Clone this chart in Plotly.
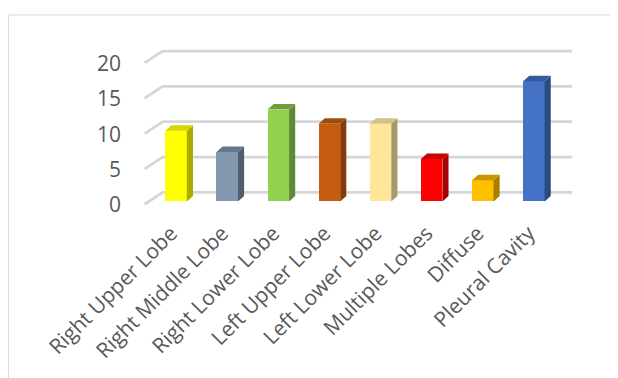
import plotly.graph_objects as go

categories = ["Right Upper Lobe", "Right Middle Lobe", "Right Lower Lobe", "Left Upper Lobe",
              "Left Lower Lobe", "Multiple Lobes", "Diffuse", "Pleural Cavity"]
values = [10, 7, 13, 11, 11, 6, 3, 17]
front_colors = ["#FFFF00", "#8497B0", "#92D050", "#C55A11", "#FFE699", "#FF0000", "#FFC000", "#4472C4"]
side_colors = ["#ABAB00", "#525E6E", "#5E8A33", "#843C0C", "#A89A66", "#A80000", "#A87F00", "#2B4A80"]
top_colors = ["#D6D600", "#66768C", "#6E9E3C", "#A04A0E", "#D2C38A", "#C80000", "#C89600", "#34599C"]
grid_values = [0, 5, 10, 15, 20]
tick_labels = ["0", "5", "10", "15", "20"]

# 3-D geometry (category / value units)
HW = 0.21          # half width of bar front face
DDX, DDY = 0.12, 0.78   # bar depth offset
BACK_DX0, BACK_DX1, BACK_DY = -0.264, 7.75, 1.28
FRONT_DX, FRONT_DY = -0.616, -0.4

TXT = "#595959"
FONT = "Open Sans"

fig = go.Figure()

# gridlines (base subplot, drawn beneath bars)
gx, gy = [], []
for v in grid_values:
    gx += [FRONT_DX, BACK_DX0, BACK_DX1, None]
    gy += [v + FRONT_DY, v + BACK_DY, v + BACK_DY, None]
fig.add_trace(go.Scatter(x=gx, y=gy, mode="lines", line=dict(color="#D6D6D6", width=2.8),
                         hoverinfo="skip", showlegend=False, xaxis="x", yaxis="y"))

xs = list(range(len(categories)))
# front faces
fig.add_trace(go.Bar(x=xs, y=values, width=2 * HW, marker=dict(color=front_colors, line=dict(width=0)),
                     showlegend=False, xaxis="x2", yaxis="y2"))
# side and top faces
for i, v in enumerate(values):
    sx = [i + HW, i + HW + DDX, i + HW + DDX, i + HW, i + HW]
    sy = [0, DDY, v + DDY, v, 0]
    fig.add_trace(go.Scatter(x=sx, y=sy, fill="toself", mode="lines", line=dict(width=0, color=side_colors[i]),
                             fillcolor=side_colors[i], hoverinfo="skip", showlegend=False,
                             xaxis="x2", yaxis="y2"))
    tx = [i - HW, i + HW, i + HW + DDX, i - HW + DDX, i - HW]
    ty = [v, v, v + DDY, v + DDY, v]
    fig.add_trace(go.Scatter(x=tx, y=ty, fill="toself", mode="lines", line=dict(width=0, color=top_colors[i]),
                             fillcolor=top_colors[i], hoverinfo="skip", showlegend=False,
                             xaxis="x2", yaxis="y2"))

XR = [-1, 8]
YR = [-1.5, 22]
ax_common = dict(showgrid=False, zeroline=False, showline=False, ticks="")
fig.update_layout(
    width=618, height=378,
    margin=dict(l=117, r=41, t=38, b=174),
    paper_bgcolor="white", plot_bgcolor="white",
    xaxis=dict(range=XR, tickmode="array", tickvals=xs, ticktext=categories, tickangle=-45,
               tickfont=dict(family=FONT, size=21, color=TXT), ticklabelshift=-5, ticklabelstandoff=4,
               **ax_common),
    yaxis=dict(range=YR, showticklabels=False, **ax_common),
    xaxis2=dict(range=XR, overlaying="x", visible=False, **ax_common),
    yaxis2=dict(range=YR, overlaying="y", visible=False, **ax_common),
    bargap=0,
)

for v, t in zip(grid_values, tick_labels):
    fig.add_annotation(x=0, xref="paper", xanchor="right", xshift=-2, y=v, yref="y", yshift=-3,
                       text=t, showarrow=False, font=dict(family=FONT, size=21, color=TXT))

# chart area border
fig.add_shape(type="rect", xref="paper", yref="paper", x0=-0.2533, x1=1.5, y0=-1.5, y1=1.187,
              line=dict(color="#D9D9D9", width=1), fillcolor="rgba(0,0,0,0)", layer="below")

fig.write_html("out.html")
